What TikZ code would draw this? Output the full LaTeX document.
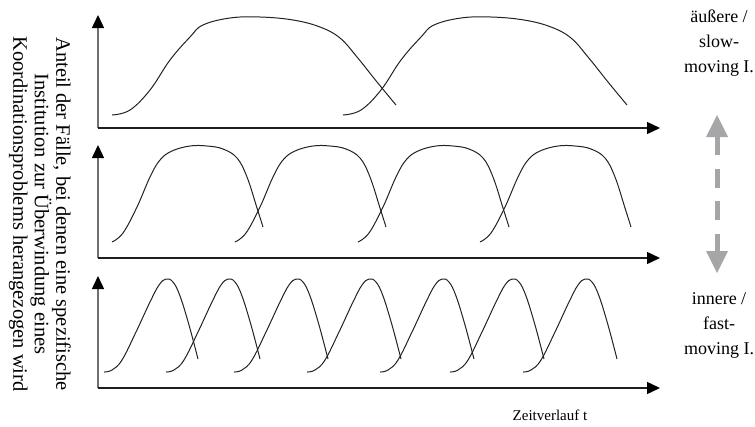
\documentclass[tikz,border=0pt]{standalone}
\usepackage{fontspec}
\setmainfont{Liberation Serif}
\usetikzlibrary{arrows.meta}
\definecolor{curvecol}{HTML}{222222}
\definecolor{vaxis}{HTML}{707070}
\definecolor{haxis}{HTML}{1E1E1E}
\definecolor{softgray}{HTML}{A6A6A8}
\begin{document}
\begin{tikzpicture}[x=1pt,y=-1pt,
  vax/.style={line width=1.4pt, draw=vaxis, -{Triangle[length=13pt,width=12pt,color=black]}},
  hax/.style={line width=1.4pt, draw=haxis, -{Triangle[length=13pt,width=12pt,color=black]}},
  curve/.style={line width=1pt, draw=curvecol},
  label/.style={inner sep=0pt, align=center, font=\fontsize{18}{25}\selectfont},
  gshaft/.style={line width=5pt, draw=softgray, dash pattern=on 19pt off 13.5pt},
  ghead/.style={fill=softgray, draw=none}
]
\useasboundingbox (0,0) rectangle (755,426);

% axes (origins and tips)
\coordinate (o1) at (98,128); \coordinate (y1) at (98,15);  \coordinate (x1) at (660,128);
\coordinate (o2) at (98,258); \coordinate (y2) at (98,145); \coordinate (x2) at (660,258);
\coordinate (o3) at (98,388); \coordinate (y3) at (98,276); \coordinate (x3) at (660,388);
\foreach \i in {1,2,3}{
  \draw[vax] (o\i) -- (y\i);
  \draw[hax] (o\i) -- (x\i);
}

% top panel: slow-moving institutions
\foreach \s in {112,343}{
  \draw[curve, shift={(\s,115)}] plot[smooth, tension=0.65] coordinates
    {(0,0) (18,-5) (38,-25) (58,-55) (78,-78) (91,-90) (118,-97) (148,-98)
     (181,-95) (208,-88) (228,-77) (245,-58) (265,-33) (284,-10)};
}

% middle panel
\foreach \s in {112,235,358,480}{
  \draw[curve, shift={(\s,242)}] plot[smooth, tension=0.65] coordinates
    {(0,0) (11,-9) (25,-35) (38,-65) (48,-82) (60,-91) (78,-96) (95,-96)
     (111,-93) (125,-84) (135,-65) (145,-34) (151,-15)};
}

% bottom panel: fast-moving institutions
\foreach \s in {104,166,234,307,380,450,523}{
  \draw[curve, shift={(\s,372)}] plot[smooth, tension=0.65] coordinates
    {(0,0) (8,-2) (18,-12) (32,-40) (46,-70) (55,-87) (62,-93) (69,-90)
     (76,-76) (85,-47) (94,-13)};
}

% texts
\node[label, rotate=-90, font=\fontsize{20.5}{21.5}\selectfont] (ylab) at (40,214)
  {Anteil der Fälle, bei denen eine spezifische\\Institution zur Überwindung eines\\Koordinationsproblems herangezogen wird};
\node[label] (slow) at (719,43) {äußere /\\slow-\\moving I.};
\node[label] (fast) at (719,325) {innere /\\fast-\\moving I.};
\node[inner sep=0pt, font=\fontsize{15}{18}\selectfont] (time) at (550,415) {Zeitverlauf t};

% grey dashed double arrow
\coordinate (gtop) at (717,115);
\coordinate (gbot) at (717,273);
\fill[ghead] (gtop) -- ++(11,22) -- ++(-22,0) -- cycle;
\fill[ghead] (gbot) -- ++(11,-22) -- ++(-22,0) -- cycle;
\draw[gshaft] ([yshift=-21pt]gtop) -- ([yshift=21pt]gbot);
\end{tikzpicture}
\end{document}
